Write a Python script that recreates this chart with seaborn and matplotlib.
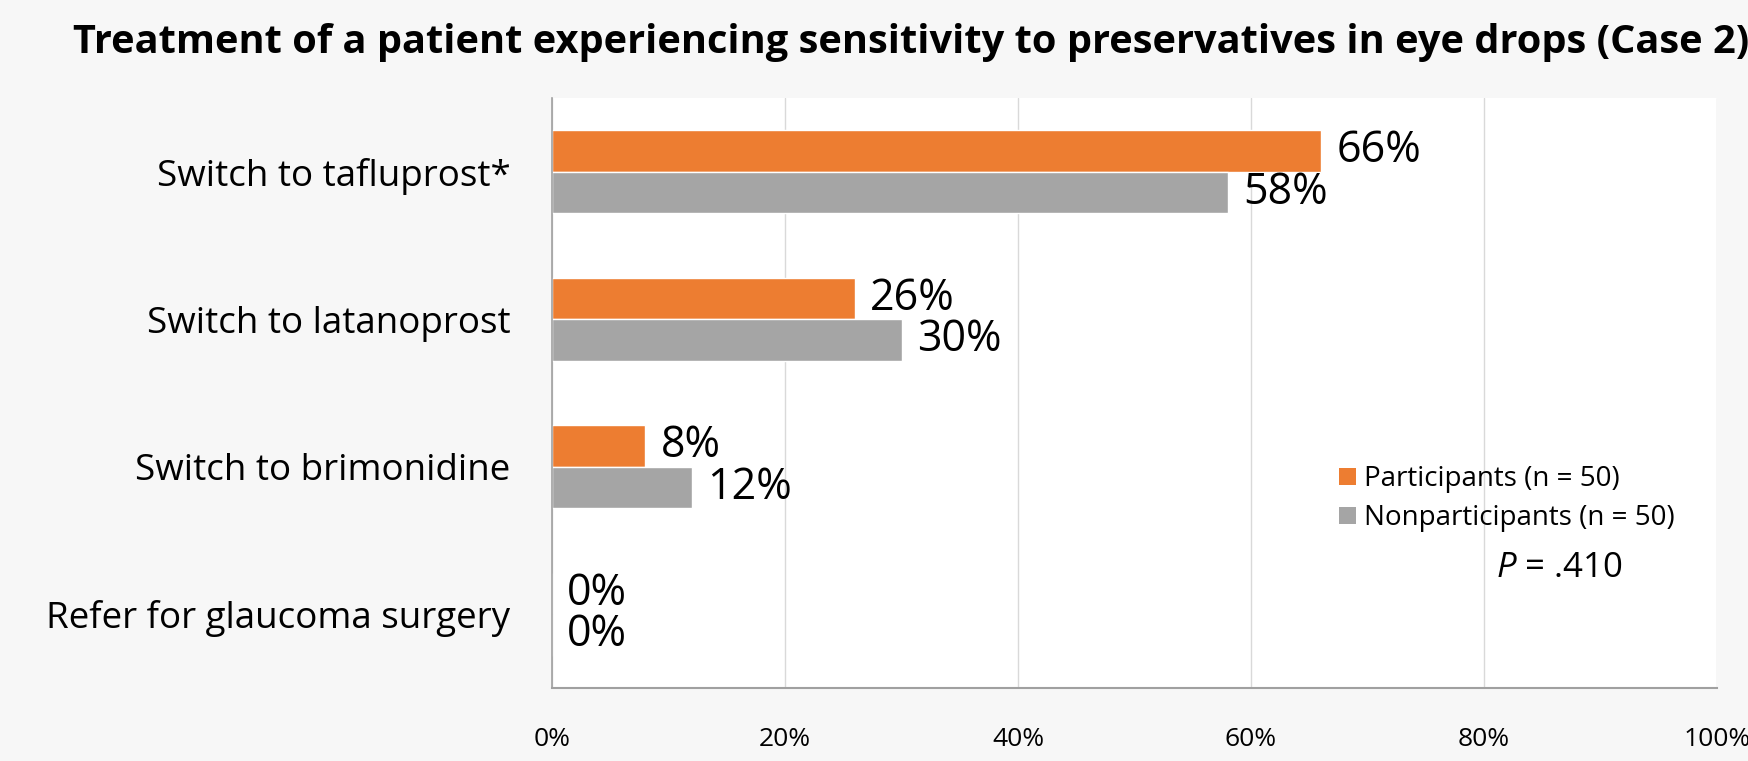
import pandas as pd
import matplotlib.pyplot as plt
import seaborn as sns
from matplotlib.patches import Patch

# Data
categories = ['Switch to tafluprost*', 'Switch to latanoprost',
              'Switch to brimonidine', 'Refer for glaucoma surgery']
participants = [66, 26, 8, 0]
nonparticipants = [58, 30, 12, 0]
series_names = ['Participants (n = 50)', 'Nonparticipants (n = 50)']
x_ticks = [0, 20, 40, 60, 80, 100]
x_tick_labels = ['0%', '20%', '40%', '60%', '80%', '100%']
title = 'Treatment of a patient experiencing sensitivity to preservatives in eye drops (Case 2)'
p_text = '$\\it{P}$ = .410'

colors = ['#ED7D31', '#A5A5A5']

df = pd.DataFrame({
    'category': categories * 2,
    'value': participants + nonparticipants,
    'group': [series_names[0]] * 4 + [series_names[1]] * 4,
})

sns.set_theme(style='white')
plt.rcParams['font.family'] = ['Open Sans', 'DejaVu Sans']
plt.rcParams['mathtext.fontset'] = 'custom'
plt.rcParams['mathtext.it'] = 'Open Sans:italic'
plt.rcParams['mathtext.rm'] = 'Open Sans'
plt.rcParams['text.color'] = 'black'
plt.rcParams['xtick.color'] = 'black'
plt.rcParams['ytick.color'] = 'black'

fig = plt.figure(figsize=(17.48, 7.61), dpi=100, facecolor='#f7f7f7')
ax = fig.add_axes([0.3158, 0.0959, 0.9823 - 0.3158, 0.8712 - 0.0959])
ax.set_facecolor('white')

sns.barplot(data=df, y='category', x='value', hue='group', order=categories,
            hue_order=series_names, palette=colors, width=0.56, orient='h',
            edgecolor='white', linewidth=1, saturation=1, legend=False, ax=ax)

for cont, vals in zip(ax.containers, [participants, nonparticipants]):
    ax.bar_label(cont, labels=[f'{v}%' for v in vals], padding=11,
                 fontsize=31, color='black')

ax.set_xlim(0, 100)
ax.set_ylim(3.5, -0.5)
ax.set_xticks(x_ticks)
ax.set_xticklabels(x_tick_labels, fontsize=19)
ax.set_yticks(range(len(categories)))
ax.set_yticklabels(categories, fontsize=26.5)
ax.set_yticks([-0.5, 0.5, 1.5, 2.5, 3.5], minor=True)
ax.tick_params(axis='y', which='major', length=0, pad=30)
ax.tick_params(axis='y', which='minor', length=8, color='#a0a0a0', width=1, direction='out')
ax.tick_params(axis='x', which='major', length=8, color='#a0a0a0', width=1,
               direction='out', pad=20)
ax.set_xlabel('')
ax.set_ylabel('')
ax.grid(axis='x', color='#d9d9d9', linewidth=1)
ax.set_axisbelow(True)
for s in ['top', 'right']:
    ax.spines[s].set_visible(False)
ax.spines['left'].set_color('#a0a0a0')
ax.spines['bottom'].set_color('#a0a0a0')
ax.spines['left'].set_linewidth(1.2)
ax.spines['bottom'].set_linewidth(1.5)

handles = [Patch(facecolor=c, edgecolor='none') for c in colors]
fig.legend(handles, series_names, loc='upper left', bbox_to_anchor=(0.758, 0.407),
           frameon=False, fontsize=20, handlelength=0.6, handleheight=0.6,
           handletextpad=0.3, labelspacing=0.4, borderpad=0)
fig.text(0.856, 0.253, p_text, fontsize=25, ha='left', va='center')

fig.text(0.521, 0.944, title, fontsize=28.6, fontweight='bold', ha='center', va='center')

fig.savefig('out.png', dpi=100, facecolor=fig.get_facecolor())
